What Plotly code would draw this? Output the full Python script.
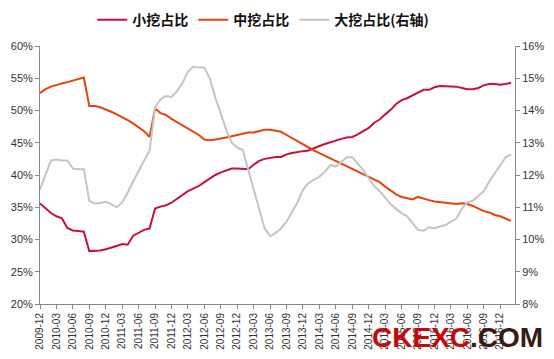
import plotly.graph_objects as go

# monthly categories 2009-12 .. 2017-02
months = []
y, m = 2009, 12
for _ in range(87):
    months.append(f"{y}-{m:02d}")
    m += 1
    if m > 12:
        m = 1
        y += 1

small_share = [35.6, 34.8, 34.1, 33.6, 33.3, 31.8, 31.4, 31.3, 31.2, 28.2,
               28.2, 28.3, 28.5, 28.7, 29.0, 29.3, 29.2, 30.6, 31.0, 31.5,
               31.7, 34.8, 35.1, 35.3, 35.7, 36.3, 37.0, 37.5, 37.9, 38.3,
               38.9, 39.5, 40.0, 40.4, 40.7, 41.0, 41.0, 40.9, 40.9, 41.6,
               42.2, 42.5, 42.7, 42.8, 42.8, 43.2, 43.4, 43.6, 43.7, 43.8,
               44.2, 44.5, 44.8, 45.1, 45.4, 45.6, 45.8, 45.9, 46.3, 46.8,
               47.3, 48.1, 48.6, 49.4, 50.1, 51.0, 51.6, 51.9, 52.3, 52.8,
               53.2, 53.2, 53.6, 53.8, 53.8, 53.8, 53.7, 53.5, 53.3, 53.3,
               53.5, 53.9, 54.1, 54.1, 54.0, 54.1, 54.3]

medium_share = [52.7, 53.3, 53.7, 54.0, 54.2, 54.4, 54.6, 54.9, 55.1, 50.7,
                50.7, 50.5, 50.2, 49.8, 49.4, 49.0, 48.5, 48.0, 47.4, 46.8,
                45.9, 50.3, 49.6, 49.3, 48.7, 48.2, 47.7, 47.1, 46.6, 46.2,
                45.5, 45.4, 45.5, 45.6, 45.8, 46.0, 46.2, 46.4, 46.6, 46.6,
                46.8, 47.0, 47.0, 46.9, 46.7, 46.2, 45.7, 45.3, 44.7, 44.3,
                43.8, 43.4, 43.0, 42.6, 42.2, 41.8, 41.4, 40.9, 40.5, 40.1,
                39.7, 39.3, 38.9, 38.2, 37.6, 37.0, 36.6, 36.4, 36.2, 36.6,
                36.3, 36.1, 35.9, 35.8, 35.6, 35.5, 35.5, 35.6, 35.5, 35.2,
                34.8, 34.4, 34.2, 33.8, 33.6, 33.3, 32.9]

large_share = [11.55, 12.0, 12.45, 12.48, 12.45, 12.45, 12.2, 12.18, 12.18, 11.2,
               11.12, 11.13, 11.17, 11.1, 11.0, 11.15, 11.45, 11.8, 12.15, 12.45,
               12.75, 14.1, 14.35, 14.45, 14.42, 14.6, 14.85, 15.2, 15.36, 15.33,
               15.33, 15.0, 14.4, 13.9, 13.4, 13.0, 12.85, 12.78, 12.2, 11.55,
               10.95, 10.35, 10.1, 10.2, 10.35, 10.55, 10.85, 11.15, 11.55, 11.75,
               11.85, 11.95, 12.1, 12.31, 12.26, 12.4, 12.55, 12.55, 12.35, 12.15,
               11.9, 11.65, 11.5, 11.3, 11.1, 10.95, 10.82, 10.72, 10.5, 10.3,
               10.27, 10.38, 10.35, 10.4, 10.45, 10.55, 10.65, 10.95, 11.15, 11.2,
               11.35, 11.5, 11.8, 12.05, 12.3, 12.55, 12.64]

series_names = ["小挖占比", "中挖占比", "大挖占比(右轴)"]
tick_labels = months[::3]

fig = go.Figure()
fig.add_trace(go.Scatter(x=months, y=small_share, name=series_names[0], mode="lines",
                         line=dict(color="#C8103C", width=2)))
fig.add_trace(go.Scatter(x=months, y=medium_share, name=series_names[1], mode="lines",
                         line=dict(color="#E8420A", width=2)))
fig.add_trace(go.Scatter(x=months, y=large_share, name=series_names[2], mode="lines",
                         line=dict(color="#C4C4C4", width=2), yaxis="y2"))

axis_font = dict(family="Liberation Sans, Arial, sans-serif", size=11, color="#333333")
x_font = dict(family="Liberation Sans, Arial, sans-serif", size=10, color="#333333")

# page body has an 8px default margin, so the figure is sized to fit the 554x359 window
fig.update_layout(
    width=546, height=351,
    margin=dict(l=32, r=39, t=38, b=55, autoexpand=False),
    paper_bgcolor="white", plot_bgcolor="white",
    showlegend=True,
    legend=dict(orientation="h", x=0.47, xanchor="center", y=1.10, yanchor="middle",
                font=dict(family="Noto Sans CJK SC", size=14, color="#111111", weight="bold"),
                itemwidth=30, tracegroupgap=0),
    xaxis=dict(type="category", range=[0, 86.7], tickmode="array",
               tickvals=tick_labels, ticktext=tick_labels, tickangle=-90,
               showgrid=False, showline=True, linecolor="#888888", linewidth=1,
               ticks="outside", ticklen=4, tickcolor="#888888", tickfont=x_font,
               zeroline=False, automargin=False),
    yaxis=dict(range=[20, 60], dtick=5, ticksuffix="%", showgrid=False,
               showline=True, linecolor="#888888", linewidth=1,
               ticks="outside", ticklen=4, tickcolor="#888888", tickfont=axis_font,
               zeroline=False, automargin=False),
    yaxis2=dict(range=[8, 16], dtick=1, ticksuffix="%", overlaying="y", side="right",
                showgrid=False, showline=True, linecolor="#888888", linewidth=1,
                ticks="outside", ticklen=4, tickcolor="#888888", tickfont=axis_font,
                zeroline=False, automargin=False),
)

fig.add_annotation(xref="paper", yref="paper", x=1.063, y=-0.128, xanchor="right", yanchor="middle",
                   showarrow=False,
                   text="<b><span style='color:#C40A0A'>CKEXC</span><span style='color:#3A1A14'>.COM</span></b>",
                   font=dict(family="Liberation Sans, Arial, sans-serif", size=28))

fig.write_html("out.html")
